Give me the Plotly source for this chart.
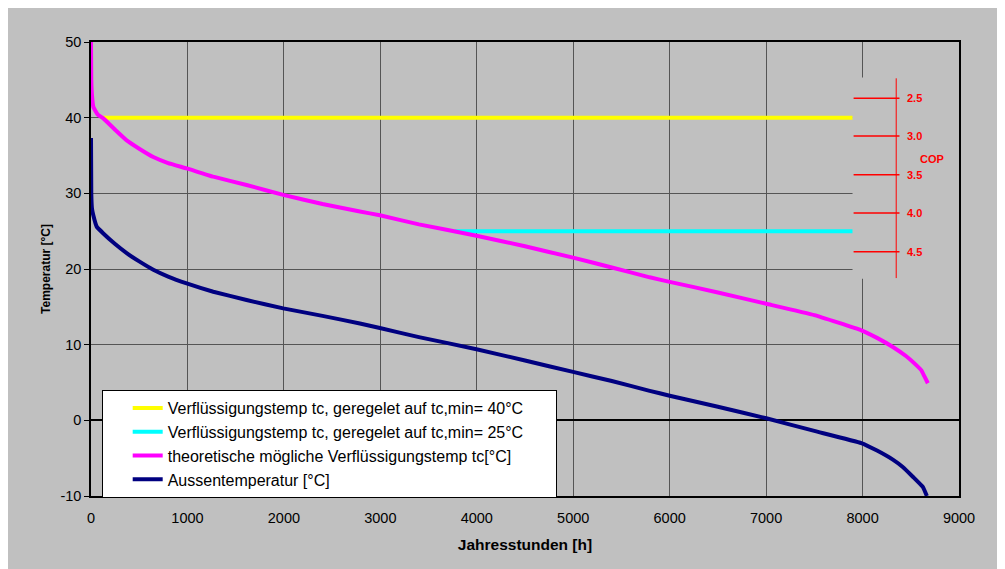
import plotly.graph_objects as go

# ---------------- data ----------------
hours_tc = [0, 3, 10, 25, 70, 128, 250, 370, 500, 646, 800, 992, 1268, 1613, 1993, 2400,
            2788, 2995, 3400, 3997, 4500, 4998, 5400, 5793, 6000, 6500, 7002, 7500, 7987,
            8150, 8314, 8450, 8557, 8610, 8642, 8677]
tc_theor = [50, 45, 43, 41.4, 40.4, 39.9, 38.4, 37.0, 35.9, 34.8, 34.0, 33.3, 32.2, 31.1, 29.8,
            28.6, 27.6, 27.1, 25.9, 24.4, 23.0, 21.5, 20.2, 18.9, 18.3, 16.9, 15.4, 13.9, 11.9,
            10.9, 9.7, 8.5, 7.3, 6.6, 5.8, 4.9]

hours_out = [0, 3, 10, 24, 59, 128, 250, 370, 500, 646, 800, 992, 1268, 1613, 1993, 2400,
             2788, 2995, 3400, 3997, 4500, 4998, 5400, 5793, 6000, 6500, 7002, 7500, 7987,
             8150, 8314, 8420, 8521, 8625, 8667]
t_out = [37.3, 30, 28, 27.1, 25.6, 24.7, 23.3, 22.1, 21.0, 19.9, 19.0, 18.1, 17.0, 15.9, 14.8,
         13.8, 12.8, 12.2, 11.0, 9.4, 7.9, 6.4, 5.2, 3.9, 3.25, 1.8, 0.27, -1.4, -3.0, -4.0,
         -5.2, -6.2, -7.45, -8.8, -10.0]

hours_40 = [120, 7900]
tc_40 = [40, 40]
hours_25 = [3770, 7900]
tc_25 = [25, 25]

names = ["Verflüssigungstemp tc, geregelet auf tc,min= 40°C",
         "Verflüssigungstemp tc, geregelet auf tc,min= 25°C",
         "theoretische mögliche Verflüssigungstemp tc[°C]",
         "Aussentemperatur [°C]"]
colors = ["#FFFF00", "#00FFFF", "#FF00FF", "#000080"]

x_ticks = [0, 1000, 2000, 3000, 4000, 5000, 6000, 7000, 8000, 9000]
y_ticks = [-10, 0, 10, 20, 30, 40, 50]
y_tick_text = ["-10", "0", "10", "20", "30", "40", "50"]

# COP scale (annotation on the chart)
cop_labels = ["2.5", "3.0", "3.5", "4.0", "4.5"]
cop_tc = [42.56, 37.57, 32.46, 27.40, 22.29]
cop_axis_x = 8349
cop_tick_x = [7907, 8383]
cop_axis_y = [18.8, 45.2]

FONT = "Arial, Liberation Sans, sans-serif"
GREY = "#C0C0C0"

fig = go.Figure()
series = [(hours_40, tc_40), (hours_25, tc_25), (hours_tc, tc_theor), (hours_out, t_out)]
legend_names = [names[0] + "\u00a0" * 6] + names[1:]
for (xs, ys), nm, col in zip(series, legend_names, colors):
    fig.add_trace(go.Scatter(x=xs, y=ys, mode="lines", name=nm,
                             line=dict(color=col, width=4, shape="spline", smoothing=0.3)))

pw, ph = 868.5, 454.0
shapes = []
# grey box behind COP scale
shapes.append(dict(type="rect", xref="x", yref="y", layer="above",
                   x0=7896, x1=9020, y0=18.7, y1=45.3,
                   fillcolor=GREY, line=dict(width=0)))
shapes.append(dict(type="line", xref="x", yref="y", layer="above",
                   x0=cop_axis_x, x1=cop_axis_x, y0=cop_axis_y[0], y1=cop_axis_y[1],
                   line=dict(color="#FF0000", width=1)))
annotations = []
for lab, yv in zip(cop_labels, cop_tc):
    shapes.append(dict(type="line", xref="x", yref="y", layer="above",
                       x0=cop_tick_x[0], x1=cop_tick_x[1], y0=yv, y1=yv,
                       line=dict(color="#FF0000", width=1.5)))
    annotations.append(dict(x=8442, y=yv, xref="x", yref="y", text="<b>%s</b>" % lab,
                            showarrow=False, xanchor="left", yanchor="middle",
                            font=dict(family=FONT, size=11, color="#FF0000")))
annotations.append(dict(x=8715, y=34.54, xref="x", yref="y", text="<b>COP</b>",
                        showarrow=False, xanchor="center", yanchor="middle",
                        font=dict(family=FONT, size=11, color="#FF0000")))

fig.update_layout(
    width=1005, height=569,
    margin=dict(l=83, r=53.5, t=34, b=81, pad=0),
    paper_bgcolor=GREY, plot_bgcolor=GREY,
    font=dict(family=FONT, color="black"),
    shapes=shapes, annotations=annotations,
    showlegend=True,
    legend=dict(x=(101.7 - 91) / pw, y=(496 - 390) / ph, xanchor="left", yanchor="top",
                bgcolor="white", bordercolor="black", borderwidth=1,
                font=dict(family=FONT, size=16, color="black"),
                indentation=25, itemwidth=30),
    xaxis=dict(range=[0, 9000], tickvals=x_ticks, ticks="", showgrid=True,
               gridcolor="#555555", gridwidth=1, showline=True, linecolor="black",
               linewidth=1.5, mirror=True, zeroline=False,
               tickfont=dict(family=FONT, size=14.5, color="black"),
               ticklabelstandoff=8,
               title=dict(text="<b>Jahresstunden [h]</b>", standoff=14,
                          font=dict(family=FONT, size=15.5, color="black"))),
    yaxis=dict(range=[-10, 50], tickvals=y_ticks, ticktext=y_tick_text,
               ticks="outside", ticklen=5,
               tickcolor="black", tickwidth=1, showgrid=True, gridcolor="#555555",
               gridwidth=1, showline=True, linecolor="black", linewidth=1.5, mirror=True,
               zeroline=True, zerolinecolor="black", zerolinewidth=1.5,
               tickfont=dict(family=FONT, size=14.5, color="black"),
               title=dict(text="<b>Temperatur [°C]</b>", standoff=7,
                          font=dict(family=FONT, size=12, color="black"))),
)

fig.write_html(
    "out.html",
    post_script="document.documentElement.style.overflow='hidden';"
                "document.body.style.overflow='hidden';",
)
